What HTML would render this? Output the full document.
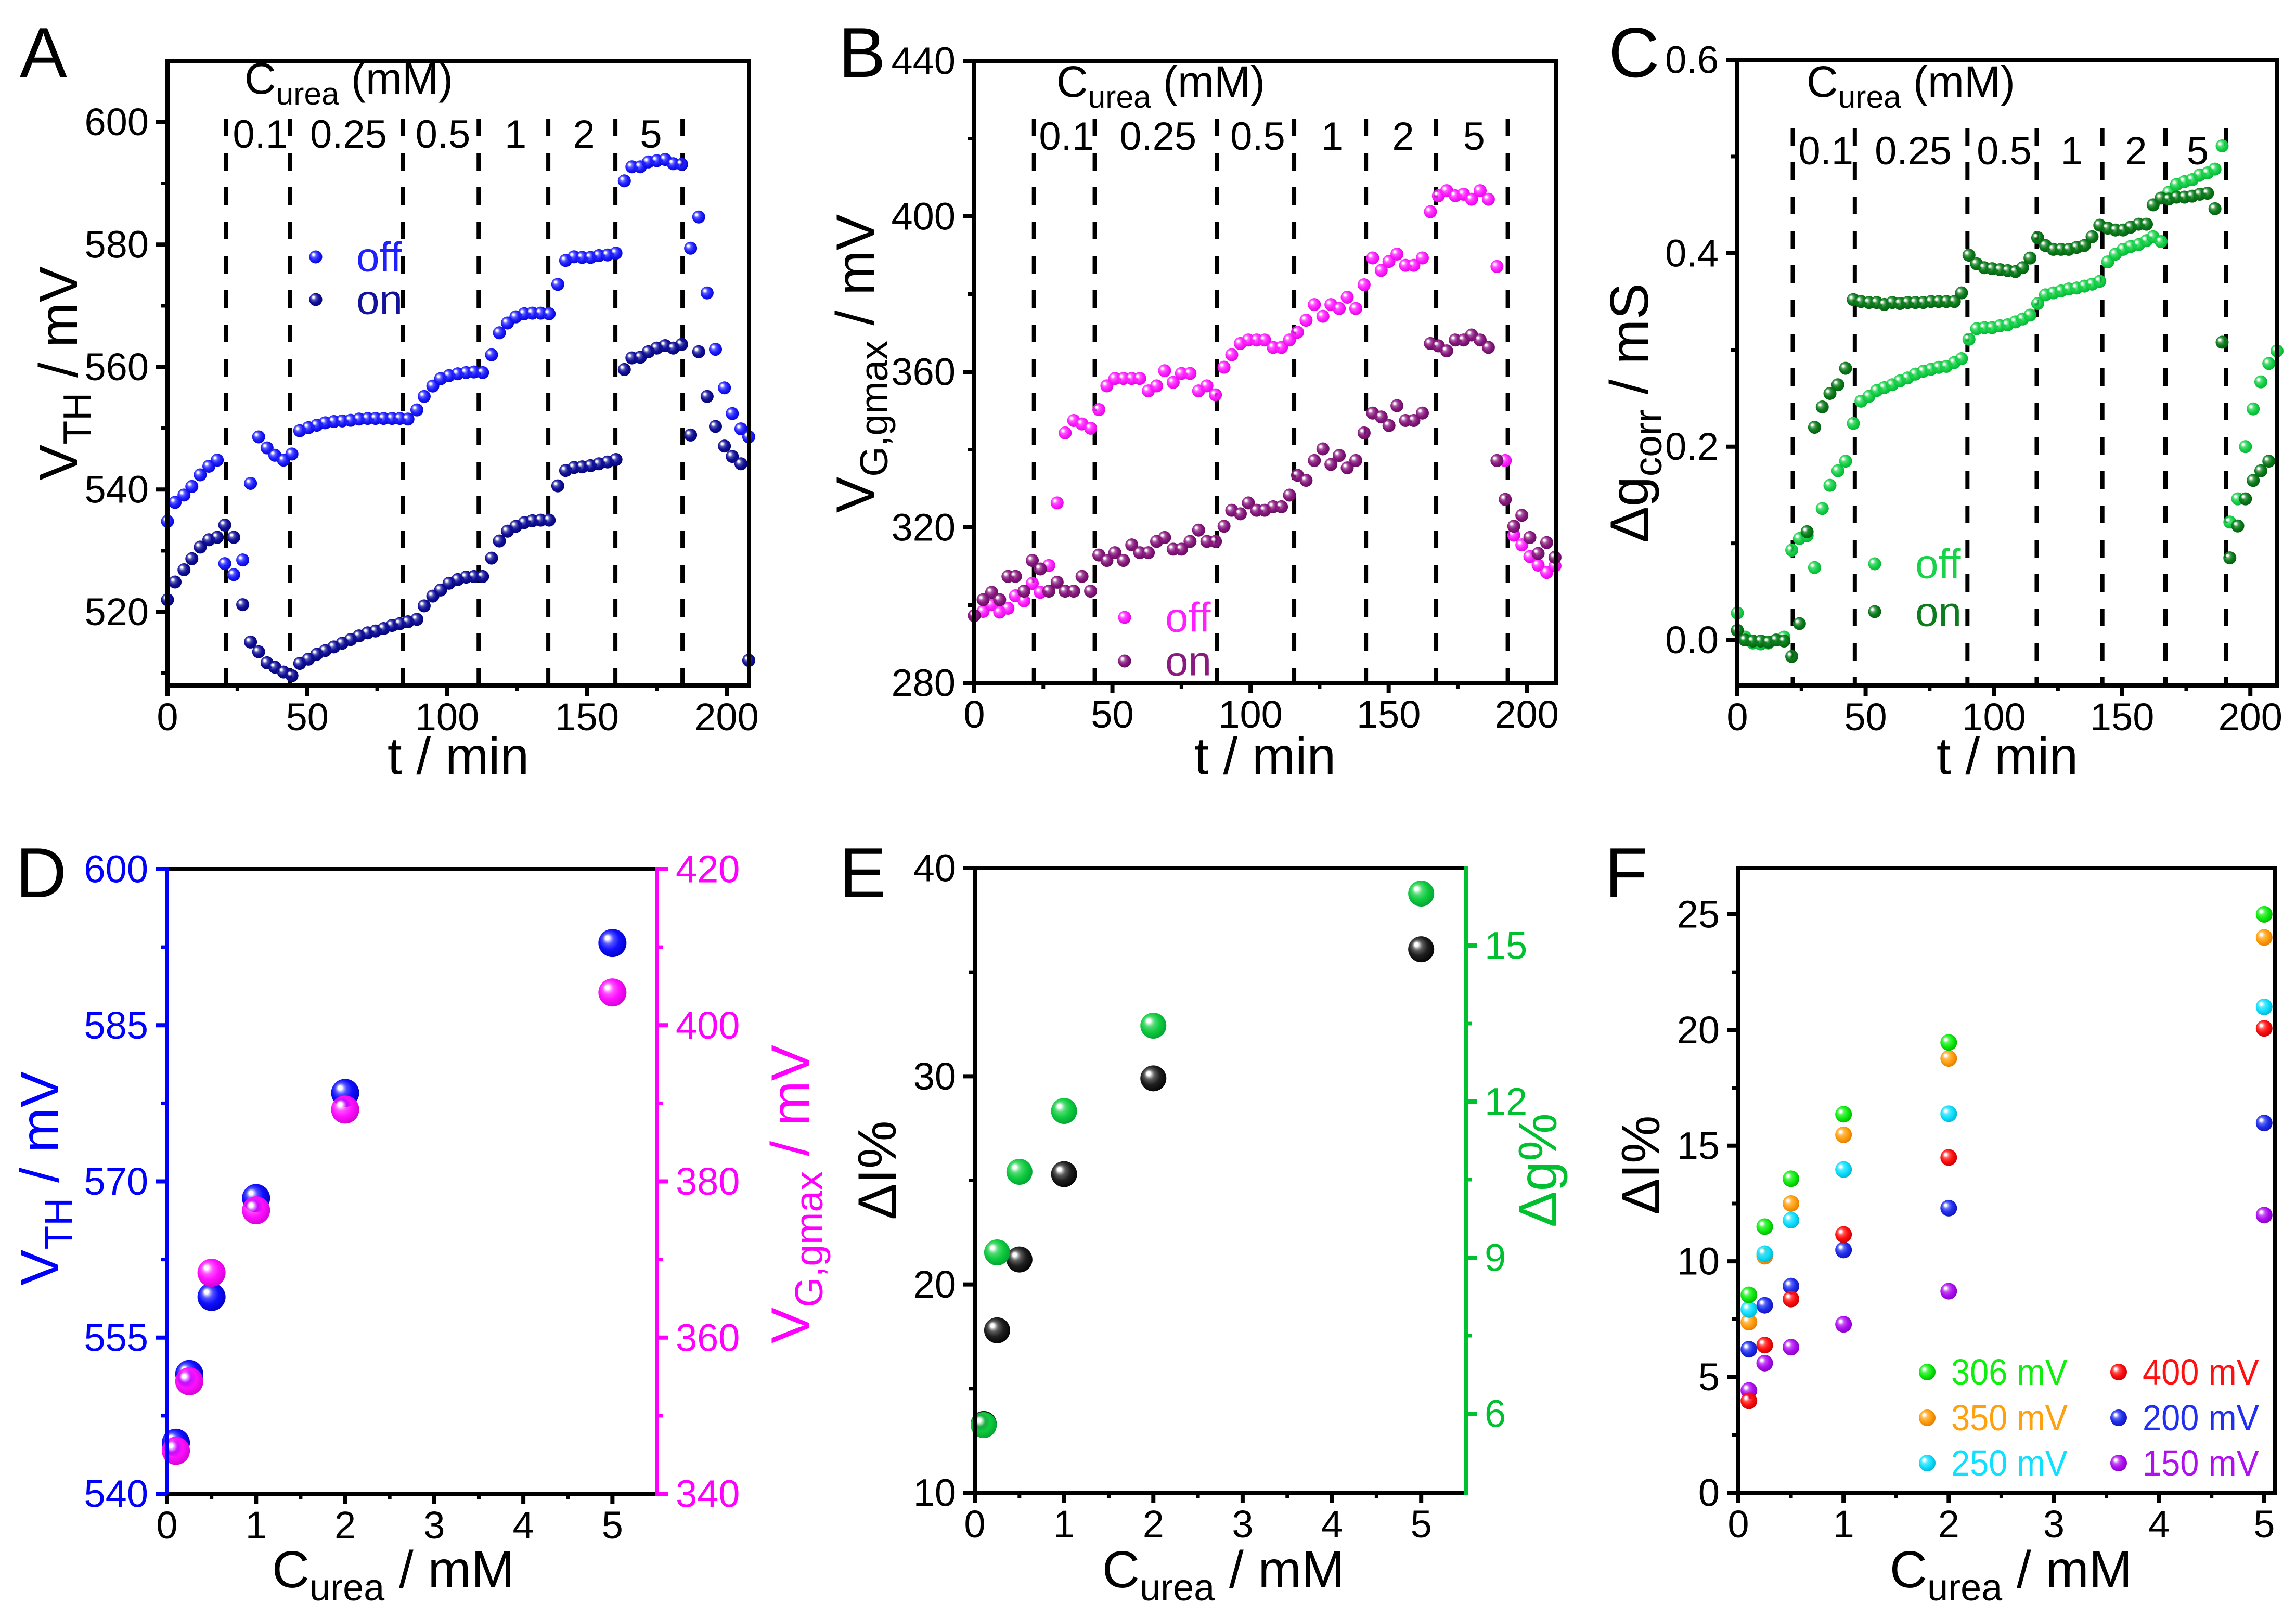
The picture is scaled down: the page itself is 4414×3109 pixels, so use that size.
<!DOCTYPE html>
<html><head><meta charset="utf-8"><style>
html,body{margin:0;padding:0;background:#fff;}
svg{display:block;font-family:"Liberation Sans",Arial,sans-serif;}
</style></head><body>
<svg id="fig" width="4414" height="3109" viewBox="0 0 4414 3109" xmlns="http://www.w3.org/2000/svg">
<defs id="defs"></defs>
</svg>
<script>
// ---------- Data ----------
const tA = [0,2.7,5.9,8.7,11.7,14.8,17.8,20.5,23.7,26.9,29.7,32.6,35.6,38.4,41.5,44.5,47.3,50.4,53.4,56.4,59.5,62.5,65.5,68.5,71.6,74.4,77.3,80.3,83.1,86,89.2,91.8,94.9,97.7,100.7,103.8,106.8,109.6,112.7,115.9,118.7,121.6,124.6,127.6,130.5,133.5,136.5,139.6,142.4,145.4,148.3,151.3,154.3,157.4,160.4,163.4,166.1,169.1,172,175,178,180.9,183.9,187.1,190,193,196,199.2,202,205.1,207.9];
const vthOff = [534.8,537.9,539.1,540.5,542.4,543.8,544.8,527.9,526.1,528.5,541.0,548.6,546.8,545.6,544.8,545.8,549.6,550.1,550.5,550.9,551.1,551.2,551.3,551.5,551.6,551.6,551.6,551.6,551.6,551.5,553.0,555.2,556.9,558.1,558.6,558.9,559.1,559.2,559.1,562,565.6,567.2,568.2,568.7,568.8,568.8,568.7,573.5,577.4,578.0,577.9,577.9,578.2,578.3,578.6,590.4,592.7,592.7,593.5,593.7,593.9,593.2,593.1,579.4,584.5,572.1,562.9,556.6,552.4,549.9,548.6];
const vthOn = [522.0,524.9,526.9,528.7,530.6,531.8,532.2,534.2,532.2,521.2,515.1,513.5,511.7,511.0,510.2,509.6,511.6,512.3,513.1,513.7,514.3,514.9,515.5,516.1,516.6,516.9,517.3,517.8,518.1,518.4,518.8,521.0,522.6,523.6,524.7,525.3,525.7,525.8,525.8,528.8,531.6,533.2,534.0,534.6,534.9,535.0,535.0,540.6,543.1,543.6,543.7,543.9,544.2,544.5,544.9,559.6,561.5,561.6,562.5,563.1,563.5,563.1,563.7,548.9,562.5,555.2,550.3,547.1,545.4,544.2,512.1];
const tB = [0,3.2,6.3,9.2,12.2,14.9,18,21,23.9,27,30,32.9,36,39,42.1,45.1,48,50.9,54,57,59.9,63,66,68.9,72,75,78.1,81.2,84.2,87.3,90.4,93.2,96.3,99.2,102.2,105.1,108.2,111.2,114.1,117,120.1,123.1,126.2,129.1,132.1,135,138.1,141.1,144.2,147.3,150.1,153,156.1,159.1,162.2,165.1,168,171,174.1,177.1,180,183.1,186.1,189.2,192.2,195.3,198.2,201.1,204.1,207.2,210.2];
const vgOff = [297.3,298.4,300.1,298.2,299.2,302.4,301.1,305.6,303.3,310.2,326.3,344.3,347.5,346.6,345.5,350.3,356.4,358.3,358.3,358.3,358.3,355.1,356.4,360.3,357.3,359.6,359.6,355.1,356.4,354.1,361.2,364.4,367.3,368.2,368.2,368.2,366.3,366.3,368.2,370.2,373.3,377.3,374.3,377.3,376.3,379.2,376.3,382.4,389.3,386.1,388.4,390.3,387.4,387.4,389.3,401.2,405.3,406.6,405.3,405.7,404.4,406.6,404.4,387.1,337.2,318.0,315.5,312.5,310.3,308.4,310.1];
const vgOn = [297.3,301.4,303.3,301.4,307.4,307.4,303.6,311.5,309.3,303.6,305.9,303.6,303.6,307.4,303.6,312.9,311.5,313.5,311.5,315.5,313.5,313.5,316.4,317.4,314.4,314.4,316.4,319.3,316.4,316.4,320.3,324.4,323.5,326.3,324.4,324.4,325.3,325.3,328.3,333.4,332.1,337.2,340.2,336.2,338.5,335.3,337.2,344.3,349.4,348.4,346.2,351.3,347.5,347.5,349.4,367.3,366.7,365.4,368.2,368.2,369.5,368.2,366.3,337.2,327.2,320.3,323.1,317.4,313.3,316.1,312.3];
const tC = [0,3,6,9.1,12.1,15.1,18.2,21.2,24.2,27.2,30.1,33.1,36.1,39.2,42.2,45.2,48.2,51.3,54.3,57.3,60.4,63.4,66.4,69.4,72.5,75.5,78.5,81.5,84.6,87.4,90.3,93.3,96.3,99.3,102.4,105.4,108.4,111.2,114.1,117.1,120.1,123.2,126.2,129.2,132.3,135.3,138.3,141.3,144.4,147.4,150.4,153.4,156.5,159.5,162.1,165.2,168.2,171.2,174.3,177.3,180.3,183.3,186.2,189,192,195.1,198.1,201.1,204.1,207.2,210.4];
const gOff = [0.028,0.003,-0.003,-0.004,-0.003,0.000,0.003,0.093,0.105,0.108,0.075,0.136,0.160,0.175,0.185,0.224,0.247,0.252,0.258,0.261,0.264,0.268,0.271,0.275,0.278,0.280,0.282,0.283,0.287,0.291,0.311,0.322,0.323,0.323,0.325,0.326,0.329,0.332,0.336,0.348,0.357,0.359,0.361,0.363,0.364,0.366,0.368,0.371,0.391,0.399,0.404,0.407,0.409,0.413,0.417,0.412,0.463,0.471,0.474,0.476,0.481,0.483,0.487,0.511,0.122,0.146,0.200,0.239,0.267,0.286,0.299];
const gOn = [0.010,0.000,-0.001,-0.001,-0.002,0.000,-0.001,-0.017,0.017,0.112,0.220,0.241,0.255,0.264,0.281,0.352,0.350,0.349,0.349,0.347,0.349,0.348,0.349,0.349,0.349,0.350,0.350,0.350,0.350,0.359,0.398,0.389,0.385,0.384,0.383,0.382,0.381,0.385,0.395,0.416,0.408,0.404,0.404,0.404,0.406,0.408,0.417,0.429,0.426,0.424,0.424,0.427,0.430,0.430,0.450,0.457,0.456,0.458,0.458,0.459,0.461,0.462,0.446,0.308,0.085,0.118,0.146,0.165,0.175,0.185];
const dashA = [21,43.8,84.2,111.3,136.2,160.2,184.2];
const dashB = [21.6,43.6,87.9,115.8,141.8,167.2,193.1];
const dashC = [21.6,45.8,89.7,116.7,142.3,166.9,190.5];
const concLabels = ["0.1","0.25","0.5","1","2","5"];
const conc = [0.1,0.25,0.5,1,2,5];
const dVth = [544.9,551.5,558.9,568.4,578.5,592.9];
const dVg = [345.5,354.4,368.3,376.3,389.2,404.2];
const eDI = [13.3,17.8,21.2,25.3,29.9,36.1];
const eDg = [5.78,9.1,10.65,11.82,13.46,16.0];
const f306 = [8.55,11.5,13.57,16.36,19.46,25.0];
const f350 = [7.37,10.22,12.5,15.47,18.77,24.0];
const f250 = [7.92,10.33,11.78,13.97,16.38,21.0];
const f400 = [3.97,6.38,8.37,11.16,14.49,20.07];
const f200 = [6.2,8.1,8.93,10.49,12.3,15.98];
const f150 = [4.42,5.6,6.29,7.28,8.71,12.0];
const ticksTime = [0,50,100,150,200];
const ticksA = [520,540,560,580,600];
const ticksB = [280,320,360,400,440];
const ticksC = [0.0,0.2,0.4,0.6];
const ticksConc = [0,1,2,3,4,5];

// ---------- helpers ----------
const NS = "http://www.w3.org/2000/svg";
const svg = document.getElementById('fig');
const defs = document.getElementById('defs');
function mk(tag, attrs, parent) {
  const e = document.createElementNS(NS, tag);
  for (const k in attrs) e.setAttribute(k, attrs[k]);
  (parent || svg).appendChild(e);
  return e;
}
const gradDone = {};
function grad(color, dark) {
  const id = 'g' + color.replace('#','');
  if (gradDone[id]) return id;
  gradDone[id] = 1;
  const g = mk('radialGradient', {id: id, cx: '0.45', cy: '0.45', r: '0.6', fx: '0.3', fy: '0.3'}, defs);
  mk('stop', {offset: '0', 'stop-color': '#ffffff'}, g);
  mk('stop', {offset: '0.12', 'stop-color': '#ffffff'}, g);
  mk('stop', {offset: '0.35', 'stop-color': color, 'stop-opacity': '0.75'}, g);
  mk('stop', {offset: '0.6', 'stop-color': color}, g);
  mk('stop', {offset: '1', 'stop-color': dark}, g);
  return id;
}
function scale(d0, d1, p0, p1) { return v => p0 + (v - d0) * (p1 - p0) / (d1 - d0); }
function text(x, y, s, opts, name) {
  const t = mk('text', Object.assign({x: x, y: y, 'font-size': 74, fill: '#000'}, opts || {}));
  t.textContent = s;
  
  
  return t;
}
function subText(x, y, main, sub, rest, size, color, opts, name) {
  const t = mk('text', Object.assign({x: x, y: y, 'font-size': size, fill: color}, opts || {}));
  const a = mk('tspan', {}, t); a.textContent = main;
  const b = mk('tspan', {dy: size * 0.25, 'font-size': size * 0.72}, t); b.textContent = sub;
  const c = mk('tspan', {dy: -size * 0.25}, t); c.textContent = rest;
  
  
  return t;
}
function line(x1, y1, x2, y2, stroke, w, extra, name) {
  const l = mk('line', Object.assign({x1: x1, y1: y1, x2: x2, y2: y2, stroke: stroke, 'stroke-width': w}, extra || {}));
  
  
  return l;
}
function dot(cx, cy, r, color, dark, name) {
  const c = mk('circle', {cx: cx, cy: cy, r: r, fill: 'url(#' + grad(color, dark) + ')'});
  
  
  return c;
}
function frame(L, T, R, B, name) {
  const r = mk('rect', {x: L, y: T, width: R - L, height: B - T, fill: 'none', stroke: '#000', 'stroke-width': 8});
  
  
}
function xAxis(L, B, sx, majors, minors, fmt, pname) {
  majors.forEach(v => {
    line(sx(v), B, sx(v), B + 20, '#000', 8, {}, pname + '-x-tick');
    text(sx(v), B + 86, fmt(v), {'text-anchor': 'middle'}, pname + '-x-tick-label');
  });
  minors.forEach(v => line(sx(v), B, sx(v), B + 11, '#000', 7, {}, pname + '-x-minor-tick'));
}
function yAxis(X, sy, majors, minors, fmt, color, side, pname, fam) {
  const dir = side === 'left' ? -1 : 1;
  majors.forEach(v => {
    line(X, sy(v), X + dir * 22, sy(v), color, 8, {}, pname + '-y-tick');
    const o = {'text-anchor': side === 'left' ? 'end' : 'start', 'dominant-baseline': 'central', fill: color};
    if (fam) o['font-family'] = fam;
    text(X + dir * 36, sy(v), fmt(v), o, pname + '-y-tick-label');
  });
  minors.forEach(v => line(X, sy(v), X + dir * 12, sy(v), color, 7, {}, pname + '-y-minor-tick'));
}

// ---------- Time panels A, B, C ----------
function timePanel(cfg) {
  const {L, T, R, B, xmax, y0, y1, p} = cfg;
  const sx = scale(0, xmax, L, R), sy = scale(y0, y1, B, T);
  cfg.dash.forEach(t => line(sx(t), cfg.dashTop, sx(t), B, '#000', 8, {'stroke-dasharray': '34 32'}, p + '-concentration-divider'));
  cfg.dash.slice(0, 6).forEach((t, i) => text((sx(t) + sx(cfg.dash[i + 1])) / 2 + 4, cfg.rlY, concLabels[i], {'text-anchor': 'middle', 'font-size': 76}, p + '-conc-label'));
  subText(cfg.cuX, cfg.cuY, 'C', 'urea', cfg.cuGap + '(mM)', 84, '#000', {}, p + '-curea-header');
  cfg.series.forEach(s => {
    s.t.forEach((t, i) => { if (i < s.v.length) dot(sx(t), sy(s.v[i]), 12.5, s.c, s.d, p + '-' + s.n + '-point'); });
  });
  frame(L, T, R, B, p + '-plot-frame');
  xAxis(L, B, sx, ticksTime, [25, 75, 125, 175], v => String(v), p);
  yAxis(L, sy, cfg.ticks, cfg.minor, cfg.fmt, '#000', 'left', p, cfg.fam);
  text((L + R) / 2, 1488, 't / min', {'text-anchor': 'middle', 'font-size': 100}, p + '-x-axis-title');
  cfg.series.forEach((s, i) => {
    dot(cfg.lgX, cfg.lgY + i * cfg.lgDy, 12.5, s.c, s.d, p + '-legend-marker-' + s.n);
    text(cfg.lgX + 78, cfg.lgY + i * cfg.lgDy, s.n, {'dominant-baseline': 'central', fill: s.c, 'font-size': 80}, p + '-legend-' + s.n);
  });
  text(cfg.letX, 148, cfg.letter, {'font-size': 136}, p + '-panel-letter');
}
timePanel({p: 'panel-a', letter: 'A', letX: 38, L: 322, T: 117, R: 1440, B: 1318, xmax: 208, y0: 508, y1: 610,
  dash: dashA, dashTop: 228, rlY: 284, cuX: 470, cuY: 180, cuGap: ' ',
  ticks: ticksA, minor: [510, 530, 550, 570, 590], fmt: v => String(v),
  lgX: 607, lgY: 494, lgDy: 82,
  series: [{t: tA, v: vthOff, c: '#2020ff', d: '#0000cc', n: 'off'}, {t: tA, v: vthOn, c: '#12129a', d: '#000070', n: 'on'}]});
timePanel({p: 'panel-b', letter: 'B', letX: 1612, L: 1873, T: 117, R: 2991, B: 1313, xmax: 210.5, y0: 280, y1: 440,
  dash: dashB, dashTop: 228, rlY: 288, cuX: 2031, cuY: 186, cuGap: '  ',
  ticks: ticksB, minor: [300, 340, 380, 420], fmt: v => String(v),
  lgX: 2162, lgY: 1187, lgDy: 84,
  series: [{t: tB, v: vgOff, c: '#ff20ff', d: '#dd00dd', n: 'off'}, {t: tB, v: vgOn, c: '#8a1a80', d: '#5e0a58', n: 'on'}]});
timePanel({p: 'panel-c', letter: 'C', letX: 3092, L: 3340, T: 115, R: 4378, B: 1318, xmax: 210.5, y0: -0.047, y1: 0.6,
  dash: dashC, dashTop: 246, rlY: 316, cuX: 3473, cuY: 186, cuGap: '  ',
  ticks: ticksC, minor: [0.1, 0.3, 0.5], fmt: v => v.toFixed(1), fam: '"Liberation Sans Narrow","Liberation Sans",sans-serif',
  lgX: 3604, lgY: 1084, lgDy: 92,
  series: [{t: tC, v: gOff, c: '#1ad24a', d: '#00b030', n: 'off'}, {t: tC, v: gOn, c: '#0c7c1c', d: '#045a0e', n: 'on'}]});
subText(0, 0, 'V', 'TH', ' / mV', 104, '#000', {transform: 'translate(148,718) rotate(-90)', 'text-anchor': 'middle'}, 'panel-a-y-axis-title');
subText(0, 0, 'V', 'G,gmax', ' / mV', 104, '#000', {transform: 'translate(1680,699) rotate(-90)', 'text-anchor': 'middle'}, 'panel-b-y-axis-title');
subText(0, 0, 'Δg', 'corr', '  / mS', 104, '#000', {transform: 'translate(3168,794) rotate(-90)', 'text-anchor': 'middle'}, 'panel-c-y-axis-title');

// ---------- Panel D ----------
(function () {
  const L = 321, T = 1671, R = 1263, B = 2872, p = 'panel-d';
  const sx = scale(0, 5.5, L, R), syL = scale(540, 600, B, T), syR = scale(340, 420, B, T);
  conc.forEach((c, i) => dot(sx(c), syL(dVth[i]), 27, '#1010ff', '#0000c0', p + '-vth-point'));
  conc.forEach((c, i) => dot(sx(c), syR(dVg[i]), 27, '#ff10ff', '#d000d0', p + '-vg-point'));
  line(L, T, R, T, '#000', 8, {}, p + '-top-axis');
  line(L, B, R, B, '#000', 8, {}, p + '-x-axis');
  line(L, T - 4, L, B + 4, '#0000ff', 8, {}, p + '-left-axis');
  line(R, T - 4, R, B + 4, '#ff00ff', 8, {}, p + '-right-axis');
  xAxis(L, B, sx, ticksConc, [0.5, 1.5, 2.5, 3.5, 4.5], v => String(v), p);
  yAxis(L, syL, [540, 555, 570, 585, 600], [547.5, 562.5, 577.5, 592.5], v => String(v), '#0000ff', 'left', p);
  yAxis(R, syR, [340, 360, 380, 400, 420], [350, 370, 390, 410], v => String(v), '#ff00ff', 'right', p);
  subText(0, 0, 'V', 'TH', '  / mV', 104, '#0000ff', {transform: 'translate(112,2266) rotate(-90)', 'text-anchor': 'middle'}, p + '-left-y-title');
  subText(0, 0, 'V', 'G,gmax', '  / mV', 104, '#ff00ff', {transform: 'translate(1555,2296) rotate(-90)', 'text-anchor': 'middle'}, p + '-right-y-title');
  subText(756, 3052, 'C', 'urea', '  / mM', 100, '#000', {'text-anchor': 'middle'}, p + '-x-axis-title');
  text(30, 1725, 'D', {'font-size': 136}, p + '-panel-letter');
})();

// ---------- Panel E ----------
(function () {
  const L = 1874, T = 1669, R = 2818, B = 2870, p = 'panel-e';
  const sx = scale(0, 5.5, L, R), syL = scale(10, 40, B, T), syR = scale(4.48, 16.49, B, T);
  conc.forEach((c, i) => dot(sx(c), syL(eDI[i]), 25, '#202020', '#000000', p + '-di-point'));
  conc.forEach((c, i) => dot(sx(c), syR(eDg[i]), 25, '#10cc40', '#00a030', p + '-dg-point'));
  line(L, T, R, T, '#000', 8, {}, p + '-top-axis');
  line(L, B, R, B, '#000', 8, {}, p + '-x-axis');
  line(L, T - 4, L, B + 4, '#000', 8, {}, p + '-left-axis');
  line(R, T - 4, R, B + 4, '#00c030', 8, {}, p + '-right-axis');
  xAxis(L, B, sx, ticksConc, [0.5, 1.5, 2.5, 3.5, 4.5], v => String(v), p);
  yAxis(L, syL, [10, 20, 30, 40], [15, 25, 35], v => String(v), '#000', 'left', p);
  yAxis(R, syR, [6, 9, 12, 15], [7.5, 10.5, 13.5], v => String(v), '#00c030', 'right', p);
  text(0, 0, 'ΔI%', {transform: 'translate(1722,2250) rotate(-90)', 'text-anchor': 'middle', 'font-size': 104}, p + '-left-y-title');
  text(0, 0, 'Δg%', {transform: 'translate(2992,2250) rotate(-90)', 'text-anchor': 'middle', 'font-size': 104, fill: '#00c030'}, p + '-right-y-title');
  subText(2352, 3052, 'C', 'urea', '  / mM', 100, '#000', {'text-anchor': 'middle'}, p + '-x-axis-title');
  text(1613, 1725, 'E', {'font-size': 136}, p + '-panel-letter');
})();

// ---------- Panel F ----------
const fSeries = [f306, f350, f250, f400, f200, f150];
const fNames = ['306 mV', '350 mV', '250 mV', '400 mV', '200 mV', '150 mV'];
const fColors = ['#10ee10', '#ffa010', '#10e0ff', '#ff1010', '#2030ee', '#b010f0'];
const fDark = ['#00b000', '#e07800', '#00b0d0', '#c00000', '#1010b0', '#8000c0'];
(function () {
  const L = 3342, T = 1669, R = 4373, B = 2870, p = 'panel-f';
  const sx = scale(0, 5.1, L, R), sy = scale(0, 27, B, T);
  [4, 5, 3, 1, 2, 0].forEach(k => fSeries[k].forEach((v, i) => dot(sx(conc[i]), sy(v), 16, fColors[k], fDark[k], p + '-point-' + fNames[k].replace(' ', '-'))));
  frame(L, T, R, B, p + '-plot-frame');
  xAxis(L, B, sx, ticksConc, [0.5, 1.5, 2.5, 3.5, 4.5], v => String(v), p);
  yAxis(L, sy, [0, 5, 10, 15, 20, 25], [2.5, 7.5, 12.5, 17.5, 22.5], v => String(v), '#000', 'left', p);
  text(0, 0, 'ΔI%', {transform: 'translate(3190,2240) rotate(-90)', 'text-anchor': 'middle', 'font-size': 104}, p + '-y-axis-title');
  subText(3866, 3052, 'C', 'urea', ' / mM', 100, '#000', {'text-anchor': 'middle'}, p + '-x-axis-title');
  text(3085, 1725, 'F', {'font-size': 136}, p + '-panel-letter');
  const lx = [3705, 4073], ly = [2638, 2726, 2813];
  fNames.forEach((n, k) => {
    const x = lx[Math.floor(k / 3)], y = ly[k % 3];
    dot(x, y, 16, fColors[k], fDark[k], p + '-legend-marker');
    text(x + 46, y, n, {'dominant-baseline': 'central', 'font-size': 70, fill: fColors[k], textLength: 224, lengthAdjust: 'spacingAndGlyphs'}, p + '-legend-entry');
  });
})();
</script>
</body></html>
